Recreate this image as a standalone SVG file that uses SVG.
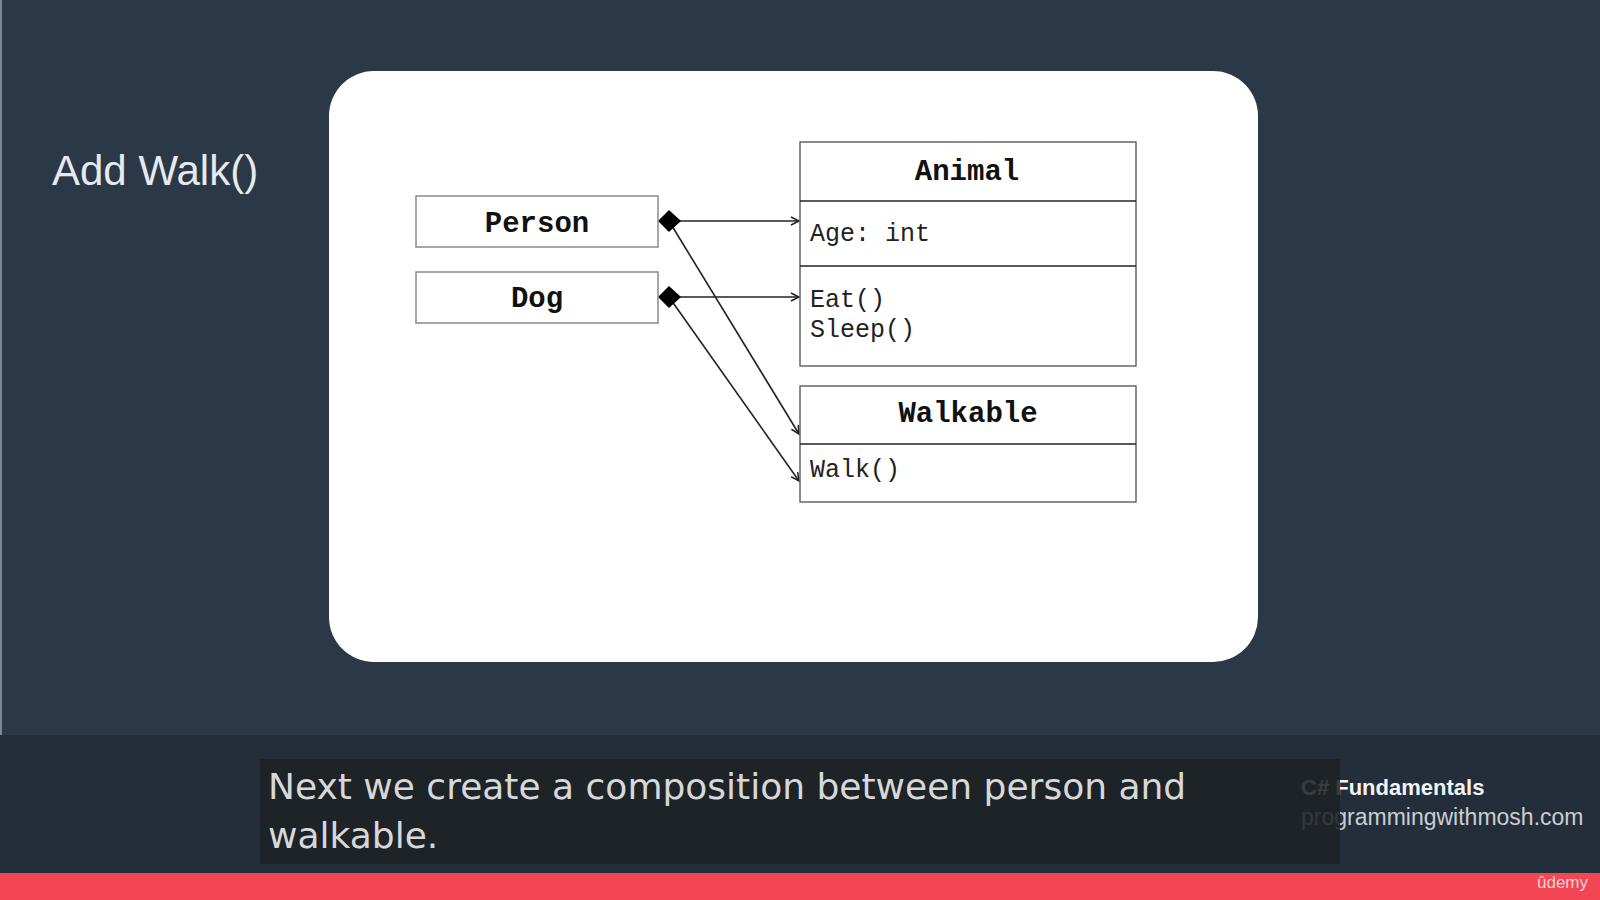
<svg xmlns="http://www.w3.org/2000/svg" width="1600" height="900" viewBox="0 0 1600 900">
  <defs>
    <style>
      .box { fill: #ffffff; stroke: #8a8a8a; stroke-width: 1.5; }
      .cls { fill: #ffffff; stroke: #666666; stroke-width: 1.5; }
      .div { stroke: #222222; stroke-width: 1.5; }
      .title { font-family: "Liberation Mono", "DejaVu Sans Mono", monospace; font-weight: bold; font-size: 29px; fill: #111111; text-anchor: middle; }
      .mem { font-family: "Liberation Mono", "DejaVu Sans Mono", monospace; font-size: 25px; fill: #222222; }
      .conn { stroke: #222222; stroke-width: 1.6; fill: none; }
      .caption { font-family: "DejaVu Sans", "Liberation Sans", sans-serif; font-size: 36px; fill: #d6d8da; }
    </style>
    <marker id="open" markerWidth="12" markerHeight="12" refX="9" refY="5" orient="auto" markerUnits="userSpaceOnUse">
      <path d="M1,1 L9,5 L1,9" fill="none" stroke="#222222" stroke-width="1.5"/>
    </marker>
  </defs>

  <!-- background -->
  <rect x="0" y="0" width="1600" height="900" fill="#2a3848"/>
  <rect x="0" y="0" width="2" height="735" fill="#7d8791"/>
  <rect x="0" y="735" width="1600" height="140" fill="#232e3a"/>
  <rect x="0" y="873" width="1600" height="27" fill="#f24654"/>

  <!-- title -->
  <text x="52" y="185" font-family="Liberation Sans, Arial, sans-serif" font-size="42" fill="#e6eaee">Add Walk()</text>

  <!-- white panel -->
  <rect x="329" y="71" width="929" height="591" rx="45" ry="45" fill="#ffffff"/>

  <!-- connectors -->
  <g id="connectors">
    <line class="conn" x1="680" y1="221" x2="799" y2="221" marker-end="url(#open)"/>
    <line class="conn" x1="680" y1="297" x2="799" y2="297" marker-end="url(#open)"/>
    <line class="conn" x1="669" y1="221" x2="799" y2="434" marker-end="url(#open)"/>
    <line class="conn" x1="669" y1="297" x2="799" y2="481" marker-end="url(#open)"/>
    <polygon points="658,221 669,210 681,221 669,232" fill="#000000"/>
    <polygon points="658,297 669,286 681,297 669,308" fill="#000000"/>
  </g>

  <g id="person">
    <rect class="box" x="416" y="196" width="242" height="51"/>
    <text class="title" x="537" y="232">Person</text>
  </g>

  <g id="dog">
    <rect class="box" x="416" y="272" width="242" height="51"/>
    <text class="title" x="537" y="307">Dog</text>
  </g>

  <g id="animal">
    <rect class="cls" x="800" y="142" width="336" height="224"/>
    <line class="div" x1="800" y1="201" x2="1136" y2="201"/>
    <line class="div" x1="800" y1="266" x2="1136" y2="266"/>
    <text class="title" x="967" y="180">Animal</text>
    <text class="mem" x="810" y="241">Age: int</text>
    <text class="mem" x="810" y="307">Eat()</text>
    <text class="mem" x="810" y="337">Sleep()</text>
  </g>

  <g id="walkable">
    <rect class="cls" x="800" y="386" width="336" height="116"/>
    <line class="div" x1="800" y1="444" x2="1136" y2="444"/>
    <text class="title" x="968" y="422">Walkable</text>
    <text class="mem" x="810" y="477">Walk()</text>
  </g>

  <!-- branding -->
  <text x="1301" y="795" font-family="Liberation Sans, Arial, sans-serif" font-size="22" font-weight="bold" fill="#f2f4f6">C# Fundamentals</text>
  <text x="1301" y="825" font-family="Liberation Sans, Arial, sans-serif" font-size="23" fill="#c9ced3">programmingwithmosh.com</text>
  <text x="1537" y="888" font-family="Liberation Sans, Arial, sans-serif" font-size="17" fill="#f6d0d4">ûdemy</text>

  <!-- caption -->
  <rect x="260" y="759" width="1080" height="105" fill="#1e2226" fill-opacity="0.88"/>
  <text class="caption" x="268" y="799">Next we create a composition between person and</text>
  <text class="caption" x="268" y="848">walkable.</text>
</svg>
